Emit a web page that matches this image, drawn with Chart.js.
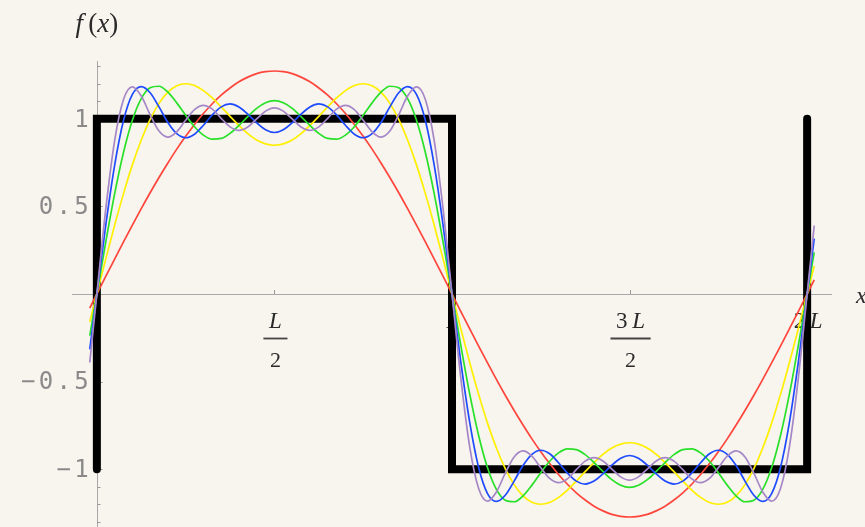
<!DOCTYPE html>
<html><head><meta charset="utf-8">
<script src="https://cdn.jsdelivr.net/npm/chart.js@4/dist/chart.umd.min.js"></script>
<style>html,body{margin:0;padding:0;background:#f8f4ee;}canvas{display:block;}</style>
</head><body>
<canvas id="c" width="865" height="527"></canvas>
<script>
// x in units of L
const xs = [-0.02, 0, 0.025, 0.05, 0.075, 0.1, 0.125, 0.15, 0.175, 0.2, 0.225, 0.25, 0.275, 0.3, 0.325, 0.35, 0.375, 0.4, 0.425, 0.45, 0.475, 0.5, 0.525, 0.55, 0.575, 0.6, 0.625, 0.65, 0.675, 0.7, 0.725, 0.75, 0.775, 0.8, 0.825, 0.85, 0.875, 0.9, 0.925, 0.95, 0.975, 1, 1.025, 1.05, 1.075, 1.1, 1.125, 1.15, 1.175, 1.2, 1.225, 1.25, 1.275, 1.3, 1.325, 1.35, 1.375, 1.4, 1.425, 1.45, 1.475, 1.5, 1.525, 1.55, 1.575, 1.6, 1.625, 1.65, 1.675, 1.7, 1.725, 1.75, 1.775, 1.8, 1.825, 1.85, 1.875, 1.9, 1.925, 1.95, 1.975, 2, 2.02];

const redY = [-0.080, 0, 0.100, 0.199, 0.297, 0.393, 0.487, 0.578, 0.665, 0.748, 0.827, 0.900, 0.968, 1.030, 1.086, 1.135, 1.176, 1.211, 1.238, 1.258, 1.269, 1.273, 1.269, 1.258, 1.238, 1.211, 1.176, 1.135, 1.086, 1.030, 0.968, 0.900, 0.827, 0.748, 0.665, 0.578, 0.487, 0.393, 0.297, 0.199, 0.100, 0, -0.100, -0.199, -0.297, -0.393, -0.487, -0.578, -0.665, -0.748, -0.827, -0.900, -0.968, -1.030, -1.086, -1.135, -1.176, -1.211, -1.238, -1.258, -1.269, -1.273, -1.269, -1.258, -1.238, -1.211, -1.176, -1.135, -1.086, -1.030, -0.968, -0.900, -0.827, -0.748, -0.665, -0.578, -0.487, -0.393, -0.297, -0.199, -0.100, 0, 0.080];

const yellowY = [-0.160, 0, 0.199, 0.392, 0.573, 0.737, 0.879, 0.997, 1.088, 1.152, 1.189, 1.200, 1.190, 1.161, 1.119, 1.068, 1.014, 0.962, 0.915, 0.879, 0.857, 0.849, 0.857, 0.879, 0.915, 0.962, 1.014, 1.068, 1.119, 1.161, 1.190, 1.200, 1.189, 1.152, 1.088, 0.997, 0.879, 0.737, 0.573, 0.392, 0.199, 0, -0.199, -0.392, -0.573, -0.737, -0.879, -0.997, -1.088, -1.152, -1.189, -1.200, -1.190, -1.161, -1.119, -1.068, -1.014, -0.962, -0.915, -0.879, -0.857, -0.849, -0.857, -0.879, -0.915, -0.962, -1.014, -1.068, -1.119, -1.161, -1.190, -1.200, -1.189, -1.152, -1.088, -0.997, -0.879, -0.737, -0.573, -0.392, -0.199, 0, 0.160];

const greenY = [-0.238, 0, 0.296, 0.572, 0.808, 0.992, 1.115, 1.177, 1.186, 1.152, 1.091, 1.020, 0.955, 0.907, 0.884, 0.888, 0.917, 0.962, 1.013, 1.060, 1.092, 1.104, 1.092, 1.060, 1.013, 0.962, 0.917, 0.888, 0.884, 0.907, 0.955, 1.020, 1.091, 1.152, 1.186, 1.177, 1.115, 0.992, 0.808, 0.572, 0.296, 0, -0.296, -0.572, -0.808, -0.992, -1.115, -1.177, -1.186, -1.152, -1.091, -1.020, -0.955, -0.907, -0.884, -0.888, -0.917, -0.962, -1.013, -1.060, -1.092, -1.104, -1.092, -1.060, -1.013, -0.962, -0.917, -0.888, -0.884, -0.907, -0.955, -1.020, -1.091, -1.152, -1.186, -1.177, -1.115, -0.992, -0.808, -0.572, -0.296, 0, 0.238];

const blueY = [-0.316, 0, 0.392, 0.734, 0.990, 1.139, 1.184, 1.149, 1.068, 0.979, 0.915, 0.892, 0.912, 0.963, 1.022, 1.068, 1.085, 1.068, 1.027, 0.977, 0.937, 0.922, 0.937, 0.977, 1.027, 1.068, 1.085, 1.068, 1.022, 0.963, 0.912, 0.892, 0.915, 0.979, 1.068, 1.149, 1.184, 1.139, 0.990, 0.734, 0.392, 0, -0.392, -0.734, -0.990, -1.139, -1.184, -1.149, -1.068, -0.979, -0.915, -0.892, -0.912, -0.963, -1.022, -1.068, -1.085, -1.068, -1.027, -0.977, -0.937, -0.922, -0.937, -0.977, -1.027, -1.068, -1.085, -1.068, -1.022, -0.963, -0.912, -0.892, -0.915, -0.979, -1.068, -1.149, -1.184, -1.139, -0.990, -0.734, -0.392, 0, 0.316];

const purpleY = [-0.391, 0, 0.483, 0.874, 1.110, 1.182, 1.130, 1.023, 0.930, 0.896, 0.926, 0.992, 1.053, 1.077, 1.055, 1.003, 0.954, 0.934, 0.953, 0.999, 1.044, 1.063, 1.044, 0.999, 0.953, 0.934, 0.954, 1.003, 1.055, 1.077, 1.053, 0.992, 0.926, 0.896, 0.930, 1.023, 1.130, 1.182, 1.110, 0.874, 0.483, 0, -0.483, -0.874, -1.110, -1.182, -1.130, -1.023, -0.930, -0.896, -0.926, -0.992, -1.053, -1.077, -1.055, -1.003, -0.954, -0.934, -0.953, -0.999, -1.044, -1.063, -1.044, -0.999, -0.953, -0.934, -0.954, -1.003, -1.055, -1.077, -1.053, -0.992, -0.926, -0.896, -0.930, -1.023, -1.130, -1.182, -1.110, -0.874, -0.483, 0, 0.391];

// square wave
const squareX = [0, 0, 1, 1, 2, 2];
const squareY = [-1, 1, 1, -1, -1, 1];

// ticks
const yTickValues = [1, 0.5, -0.5, -1];
const yTickLabels = ['1', '0.5', '\u22120.5', '\u22121'];
const xTickValues = [0.5, 1, 1.5, 2];
const xTickNumerators = [[['L', true]], [['L', true]], [['3', false], ['\u2009', false], ['L', true]], [['2', false], ['\u2009', false], ['L', true]]];
const xTickDenominators = ['2', '', '2', ''];

const pts = (xa, ya) => xa.map((x, i) => ({x: x, y: ya[i]}));

function drawRich(ctx, parts, cx, cy, size) {
  const fonts = parts.map(p => (p[1] ? 'italic ' : '') + size + 'px "Liberation Serif"');
  let total = 0;
  const widths = parts.map((p, i) => { ctx.font = fonts[i]; const w = ctx.measureText(p[0]).width; total += w; return w; });
  let x = cx - total / 2;
  ctx.textAlign = 'left';
  ctx.textBaseline = 'middle';
  parts.forEach((p, i) => { ctx.font = fonts[i]; ctx.fillText(p[0], x, cy); x += widths[i]; });
}

const axesPlugin = {
  id: 'axesPlugin',
  beforeDraw(chart) {
    const ctx = chart.ctx;
    ctx.save();
    ctx.fillStyle = '#f8f4ee';
    ctx.fillRect(0, 0, chart.width, chart.height);
    ctx.restore();
  },
  beforeDatasetsDraw(chart) {
    const ctx = chart.ctx;
    const xs_ = chart.scales.x, ys_ = chart.scales.y;
    const a = chart.chartArea;
    const x0 = xs_.getPixelForValue(0), y0 = ys_.getPixelForValue(0);
    ctx.save();
    ctx.strokeStyle = '#a8a8a8';
    ctx.lineWidth = 1;
    ctx.beginPath();
    ctx.moveTo(a.left, Math.round(y0) + 0.5); ctx.lineTo(a.right, Math.round(y0) + 0.5);
    ctx.moveTo(Math.round(x0) + 0.5, a.top); ctx.lineTo(Math.round(x0) + 0.5, a.bottom);
    ctx.stroke();
    // y ticks
    ctx.strokeStyle = '#999';
    ctx.beginPath();
    for (let k = -13; k <= 13; k++) {
      if (k === 0) continue;
      const py = Math.round(ys_.getPixelForValue(k / 10)) + 0.5;
      const len = (k % 5 === 0) ? 5 : 3;
      ctx.moveTo(Math.round(x0) + 0.5, py); ctx.lineTo(Math.round(x0) + 0.5 + len, py);
    }
    // x ticks
    xTickValues.forEach(v => {
      const px = Math.round(xs_.getPixelForValue(v)) + 0.5;
      ctx.moveTo(px, Math.round(y0)); ctx.lineTo(px, Math.round(y0) - 4);
    });
    ctx.stroke();
    // y tick labels (monospaced, wide pitch)
    ctx.fillStyle = '#8a8a8a';
    ctx.font = '24px "DejaVu Sans Mono"';
    ctx.textAlign = 'center';
    ctx.textBaseline = 'middle';
    const pitch = 17.7;
    yTickValues.forEach((v, i) => {
      const s = yTickLabels[i];
      const py = ys_.getPixelForValue(v) + 1.5;
      for (let c = 0; c < s.length; c++) {
        const fromEnd = s.length - 1 - c;
        ctx.fillText(s[c], x0 - 15.5 - fromEnd * pitch, py);
      }
    });
    // x tick labels
    ctx.fillStyle = '#2a2a2a';
    ctx.strokeStyle = '#444';
    xTickValues.forEach((v, i) => {
      const px = xs_.getPixelForValue(v) + 1;
      drawRich(ctx, xTickNumerators[i], px, y0 + 28, 23);
      if (xTickDenominators[i]) {
        ctx.font = '23px "Liberation Serif"';
        const w = ctx.measureText(xTickNumerators[i].map(p => p[0]).join('')).width;
        const bw = Math.max(w + 10, 24);
        ctx.lineWidth = 1.8;
        ctx.beginPath();
        ctx.moveTo(px - bw / 2, y0 + 44.5); ctx.lineTo(px + bw / 2, y0 + 44.5);
        ctx.stroke();
        drawRich(ctx, [[xTickDenominators[i], false]], px, y0 + 67, 22);
      }
    });
    // axis labels
    drawRich(ctx, [['f', true], ['\u2009', false], ['(', false], ['x', true], [')', false]], x0, 25, 27);
    ctx.font = 'italic 24px "Liberation Serif"';
    ctx.textAlign = 'left';
    ctx.fillText('x', 856, y0 + 3);
    ctx.restore();
  }
};

const curve = (data, color, order) => ({
  data: data, borderColor: color, borderWidth: 1.7, pointRadius: 0,
  cubicInterpolationMode: 'monotone', fill: false, order: order
});

new Chart(document.getElementById('c'), {
  type: 'line',
  data: {
    datasets: [
      { data: pts(squareX, squareY), borderColor: '#000', borderWidth: 8, pointRadius: 0, tension: 0,
        borderCapStyle: 'round', borderJoinStyle: 'miter', order: 10 },
      curve(pts(xs, redY), 'rgb(255,70,60)', 5),
      curve(pts(xs, yellowY), 'rgb(255,240,0)', 4),
      curve(pts(xs, greenY), 'rgb(40,225,40)', 3),
      curve(pts(xs, blueY), 'rgb(30,75,255)', 2),
      curve(pts(xs, purpleY), 'rgb(165,135,200)', 1)
    ]
  },
  options: {
    responsive: false,
    animation: false,
    devicePixelRatio: 1,
    clip: false,
    layout: { padding: { left: 72, right: 33, top: 61, bottom: 0 } },
    plugins: { legend: { display: false }, tooltip: { enabled: false } },
    scales: {
      x: { type: 'linear', min: -0.07, max: 2.07, display: false },
      y: { type: 'linear', min: -1.33, max: 1.33, display: false }
    }
  },
  plugins: [axesPlugin]
});
</script>
</body></html>
